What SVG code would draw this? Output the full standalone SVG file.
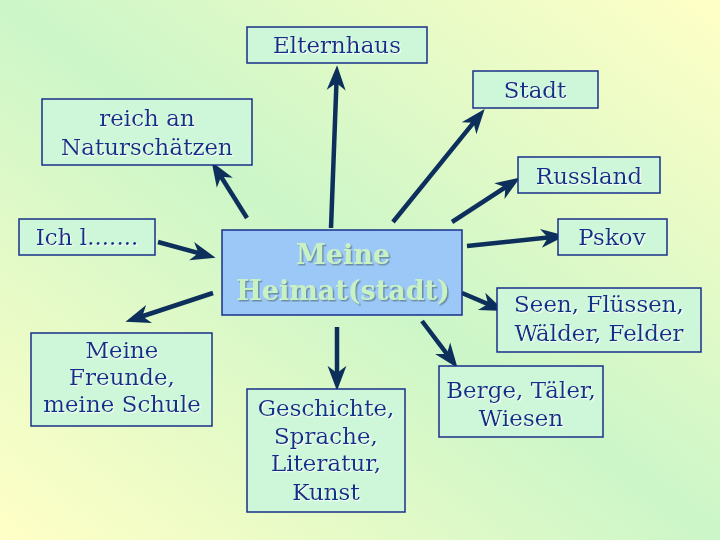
<svg xmlns="http://www.w3.org/2000/svg" width="720" height="540" viewBox="0 0 720 540">
<defs>
<linearGradient id="bg" x1="0" y1="1" x2="1" y2="0">
<stop offset="0" stop-color="#ffffc6"/>
<stop offset="0.5" stop-color="#ccf6c8"/>
<stop offset="1" stop-color="#ffffc6"/>
</linearGradient>
<marker id="ah" markerUnits="userSpaceOnUse" markerWidth="26" markerHeight="22" viewBox="0 0 22 18" refX="12" refY="9" orient="auto">
<path d="M0,1 L21,9 L0,17 L6,9 Z" fill="#0d2f5c"/>
</marker>
<filter id="sh" x="-10%" y="-10%" width="120%" height="130%">
<feDropShadow dx="1.2" dy="1.2" stdDeviation="0.4" flood-color="#ffffff" flood-opacity="0.9"/>
</filter>
<filter id="shc" x="-10%" y="-10%" width="120%" height="130%">
<feDropShadow dx="1.5" dy="1.5" stdDeviation="0.6" flood-color="#5f7f8f" flood-opacity="0.8"/>
</filter>
</defs>
<style>
.box{fill:#cdf7d8;stroke:#1a2f8a;stroke-width:1.5}
.t{font-family:"DejaVu Serif","Liberation Serif",serif;font-size:23px;fill:#10308a;text-anchor:middle;filter:url(#sh)}
.c{font-family:"DejaVu Serif","Liberation Serif",serif;font-size:27px;font-weight:bold;fill:#c9f2c4;text-anchor:middle;filter:url(#shc)}
.a{stroke:#0d2f5c;stroke-width:4.5;fill:none;marker-end:url(#ah)}
</style>
<rect width="720" height="540" fill="url(#bg)"/>
<g id="connectors">
<line class="a" x1="331" y1="228" x2="336.7" y2="76"/>
<line class="a" x1="247" y1="218" x2="217.3" y2="170.8"/>
<line class="a" x1="393" y1="222" x2="478" y2="117.2"/>
<line class="a" x1="452" y1="222" x2="511.3" y2="183.4"/>
<line class="a" x1="467" y1="246" x2="555" y2="236.8"/>
<line class="a" x1="462" y1="293" x2="494.6" y2="306.9"/>
<line class="a" x1="422" y1="321" x2="451.2" y2="359.6"/>
<line class="a" x1="337" y1="327" x2="337" y2="380"/>
<line class="a" x1="213" y1="293" x2="135.6" y2="318.5"/>
<line class="a" x1="158" y1="242" x2="205.3" y2="254.9"/>
</g>
<g id="center">
<rect x="222" y="230" width="240" height="85" fill="#9cc8f8" stroke="#1a2f8a" stroke-width="1.5"/>
<text class="c" x="343" y="264">Meine</text>
<text class="c" x="343" y="300">Heimat(stadt)</text>
</g>
<g id="elternhaus">
<rect class="box" x="247" y="27" width="180" height="36"/>
<text class="t" x="337" y="53">Elternhaus</text>
</g>
<g id="stadt">
<rect class="box" x="473" y="71" width="125" height="37"/>
<text class="t" x="535" y="98">Stadt</text>
</g>
<g id="reich">
<rect class="box" x="42" y="99" width="210" height="66"/>
<text class="t" x="147" y="126">reich an</text>
<text class="t" x="147" y="155">Naturschätzen</text>
</g>
<g id="russland">
<rect class="box" x="518" y="157" width="142" height="36"/>
<text class="t" x="589" y="184">Russland</text>
</g>
<g id="ich">
<rect class="box" x="19" y="219" width="136" height="36"/>
<text class="t" x="87" y="245">Ich l.......</text>
</g>
<g id="pskov">
<rect class="box" x="558" y="219" width="109" height="36"/>
<text class="t" x="612" y="245">Pskov</text>
</g>
<g id="seen">
<rect class="box" x="497" y="288" width="204" height="64"/>
<text class="t" x="599" y="312">Seen, Flüssen,</text>
<text class="t" x="599" y="341">Wälder, Felder</text>
</g>
<g id="freunde">
<rect class="box" x="31" y="333" width="181" height="93"/>
<text class="t" x="122" y="358">Meine</text>
<text class="t" x="122" y="385">Freunde,</text>
<text class="t" x="122" y="412">meine Schule</text>
</g>
<g id="geschichte">
<rect class="box" x="247" y="389" width="158" height="123"/>
<text class="t" x="326" y="416">Geschichte,</text>
<text class="t" x="326" y="444">Sprache,</text>
<text class="t" x="326" y="471">Literatur,</text>
<text class="t" x="326" y="500">Kunst</text>
</g>
<g id="berge">
<rect class="box" x="439" y="366" width="164" height="71"/>
<text class="t" x="521" y="398">Berge, Täler,</text>
<text class="t" x="521" y="426">Wiesen</text>
</g>
</svg>
